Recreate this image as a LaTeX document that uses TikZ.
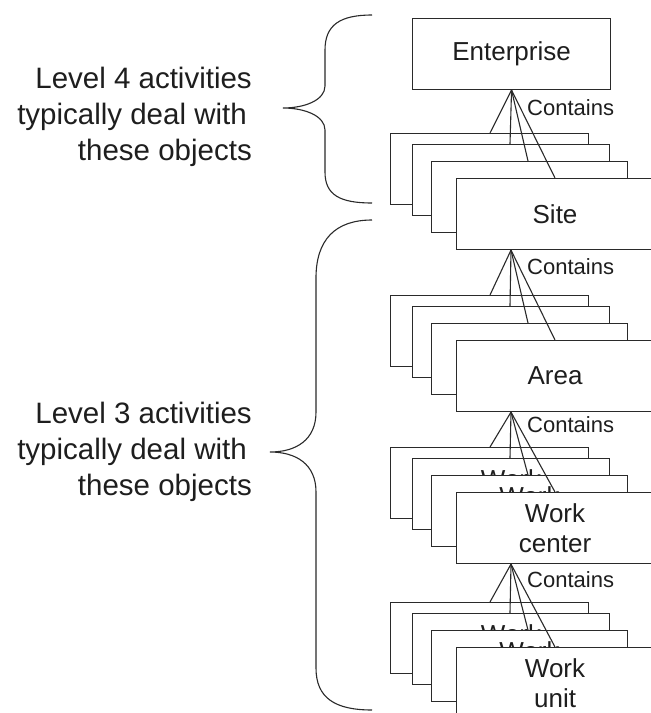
\documentclass[tikz,border=0pt]{standalone}
\usepackage{fontspec}
\setmainfont{Liberation Sans}
\definecolor{ln}{HTML}{2A2A2A}
\definecolor{tx}{HTML}{1E1E1E}
\newcommand\mystack[4]{%
  % #1 prefix, #2 top y, #3 text, #4 parent apex
  \node[box, minimum width=198pt] (#1a) at (390,#2) {#3};
  \node[box, minimum width=197pt] (#1b) at (412,#2+11) {#3};
  \node[box, minimum width=196pt] (#1c) at (431,#2+28) {#3};
  \node[box, minimum width=197pt] (#1d) at (456,#2+45) {#3};
  \coordinate (#1ea) at ([xshift=100pt]#1a.north west);
  \coordinate (#1eb) at ([xshift=98pt]#1b.north west);
  \coordinate (#1ec) at ([xshift=97pt]#1c.north west);
  \coordinate (#1ed) at ([xshift=99pt]#1d.north west);
  \draw[con] (#4) -- (#1ea);
  \draw[con] (#4) -- (#1eb);
  \draw[con] (#4) -- (#1ec);
  \draw[con] (#4) -- (#1ed);
}
\begin{document}
\begin{tikzpicture}[x=1pt,y=-1pt,
  box/.style={draw=ln, line width=1.1pt, fill=white, rectangle, inner sep=0pt,
    anchor=north west, minimum height=71pt, text=tx, align=center,
    font=\fontsize{26}{30}\selectfont},
  lbl/.style={font=\fontsize{22}{26}\selectfont, anchor=west, inner sep=0pt, text=tx},
  side/.style={font=\fontsize{29.5}{36}\selectfont, anchor=base east, inner sep=0pt, text=tx},
  con/.style={draw=ln, line width=1.1pt},
  brace/.style={draw=ln, line width=1.1pt}]
\clip (0,0) rectangle (651,713);
\fill[white] (0,0) rectangle (651,713);

% Enterprise
\node[box, minimum width=198pt] (ent) at (412,18) {Enterprise};

% stacks
\mystack{s}{133}{Site}{ent.south}
\coordinate (sap) at ([xshift=55pt]sd.south west);
\mystack{a}{295}{Area}{sap}
\coordinate (aap) at ([xshift=55pt]ad.south west);
\mystack{w}{447}{Work\\center}{aap}
\coordinate (wap) at ([xshift=55pt]wd.south west);
\mystack{u}{602}{Work\\unit}{wap}

% Contains labels
\node[lbl] (c1) at (527,108) {Contains};
\node[lbl] (c2) at (527,267) {Contains};
\node[lbl] (c3) at (527,425) {Contains};
\node[lbl] (c4) at (527,580) {Contains};

% Left texts
\node[side] (l4a) at (252,88) {Level 4 activities};
\node[side] (l4b) at (247,124) {typically deal with};
\node[side] (l4c) at (252,160) {these objects};
\node[side] (l3a) at (252,423) {Level 3 activities};
\node[side] (l3b) at (247,459) {typically deal with};
\node[side] (l3c) at (252,495) {these objects};

% Braces
\draw[brace] (372,15) .. controls (340,15) and (325,25) .. (325,50)
  -- (325,86) .. controls (325,100) and (305,108) .. (283,108)
  .. controls (305,108) and (325,116) .. (325,130)
  -- (325,172) .. controls (325,195) and (340,203) .. (372,203);
\draw[brace] (372,220) .. controls (335,220) and (316,240) .. (316,278)
  -- (316,412) .. controls (316,440) and (296,452) .. (270,452)
  .. controls (296,452) and (316,464) .. (316,492)
  -- (316,668) .. controls (316,698) and (335,710) .. (372,710);
\end{tikzpicture}
\end{document}
